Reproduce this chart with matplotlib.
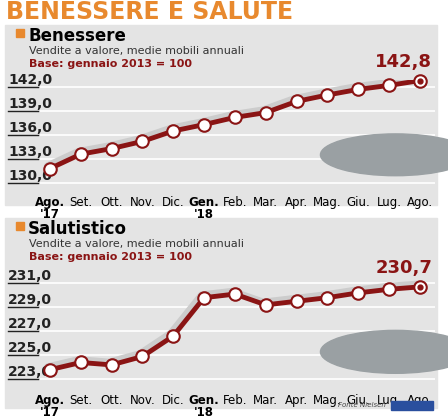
import numpy as np
import matplotlib.pyplot as plt
from matplotlib.transforms import blended_transform_factory
from matplotlib.patches import Rectangle, Circle

mesi = ["Ago.\n'17", "Set.", "Ott.", "Nov.", "Dic.", "Gen.\n'18", "Feb.", "Mar.",
        "Apr.", "Mag.", "Giu.", "Lug.", "Ago."]
benessere = [131.8, 133.6, 134.3, 135.2, 136.5, 137.3, 138.2, 138.8, 140.2, 141.0, 141.7, 142.2, 142.8]
salutistico = [223.8, 224.4, 224.2, 224.9, 226.6, 229.8, 230.1, 229.2, 229.5, 229.8, 230.2, 230.5, 230.7]
ticks_ben = [130, 133, 136, 139, 142]
ticks_sal = [223, 225, 227, 229, 231]

W, H = 448, 416
RED = "#8a1414"
BG = "#e4e4e4"
NARROW = ["Liberation Sans Narrow", "DejaVu Sans"]
fig = plt.figure(figsize=(W / 100, H / 100), dpi=100)
fig.patch.set_facecolor("white")


def px(x, y):
    return x / W, 1 - y / H


fig.text(*px(6, 12), "BENESSERE E SALUTE", color="#e8892e", fontsize=17,
         fontweight="bold", va="center", family=NARROW)


def panel(top, bottom, ax_top, ax_bot, vals, ticks, ylim, title, last):
    fig.patches.append(Rectangle(px(5, bottom), (437 - 5) / W, (bottom - top) / H,
                                 transform=fig.transFigure, color=BG, zorder=-5))
    fig.patches.append(Rectangle(px(16, top + 12), 8 / W, 8 / H, transform=fig.transFigure,
                                 color="#e8892e", zorder=1))
    fig.text(*px(28, top + 11), title, fontsize=12, fontweight="bold", va="center",
             family=NARROW)
    fig.text(*px(29, top + 26), "Vendite a valore, medie mobili annuali", fontsize=8,
             va="center", color="#333333", family=NARROW)
    fig.text(*px(29, top + 39), "Base: gennaio 2013 = 100", fontsize=8, va="center",
             color=RED, fontweight="bold", family=NARROW)
    l, b = px(40, ax_bot)
    ax = fig.add_axes([l, b, (435 - 40) / W, (ax_bot - ax_top) / H])
    ax.set_zorder(2)
    ax.set_facecolor("none")
    for s in ax.spines.values():
        s.set_visible(False)
    ax.set_xlim(-0.32, 12.49)
    ax.set_ylim(*ylim)
    ax.set_yticks([])
    ax.set_xticks(range(len(mesi)))
    ax.set_xticklabels(mesi, fontsize=8.5, va="top", linespacing=0.95, family=NARROW)
    ax.tick_params(axis="x", length=0, pad=4)
    for lbl in ax.get_xticklabels():
        if "'" in lbl.get_text():
            lbl.set_fontweight("bold")
    for t in ticks:
        ax.axhline(t, color="white", lw=1.2, zorder=1)
    tr = blended_transform_factory(fig.transFigure, ax.transData)
    for t in ticks:
        ax.plot([8 / W, 38 / W], [t, t], color="#222222", lw=1, transform=tr, clip_on=False)
        ax.text(8 / W, t, f"{t:.1f}".replace(".", ","), transform=tr, fontsize=10,
                fontweight="bold", va="bottom", ha="left", color="#222222", family=NARROW)
    ax.add_patch(Circle((0.9, 0.32), 0.19, transform=ax.transAxes, color="#9aa0a3",
                        zorder=1.5, clip_on=False))
    x = np.arange(len(vals))
    span = ylim[1] - ylim[0]
    ax.plot(x - 0.08, np.array(vals) + span * 0.025, color="#cccccc", lw=5, zorder=2,
            solid_capstyle="round")
    ax.plot(x, vals, color=RED, lw=3.5, zorder=3)
    ax.plot(x, vals, "o", ms=9, mfc="white", mec=RED, mew=1.5, zorder=4, clip_on=False)
    ax.plot(x[-1], vals[-1], "o", ms=3.5, color=RED, zorder=5, clip_on=False)
    ax.text(x[-1] + 0.4, vals[-1] + span * 0.09, f"{last:.1f}".replace(".", ","),
            fontsize=13, fontweight="bold", color=RED, ha="right", va="bottom",
            family=NARROW)
    return ax


panel(25, 205, 80, 190, benessere, ticks_ben, (129.125, 142.875), "Benessere", benessere[-1])
panel(218, 408, 275, 388, salutistico, ticks_sal, (222.275, 231.69), "Salutistico", salutistico[-1])
fig.text(*px(386, 405), "Fonte Nielsen", fontsize=5, style="italic", ha="right",
         va="center", color="#444444")
fig.patches.append(Rectangle(px(391, 410), 42 / W, 9 / H, transform=fig.transFigure,
                             color="#2a4f9e", zorder=2))

fig.savefig("out.png", dpi=100)
